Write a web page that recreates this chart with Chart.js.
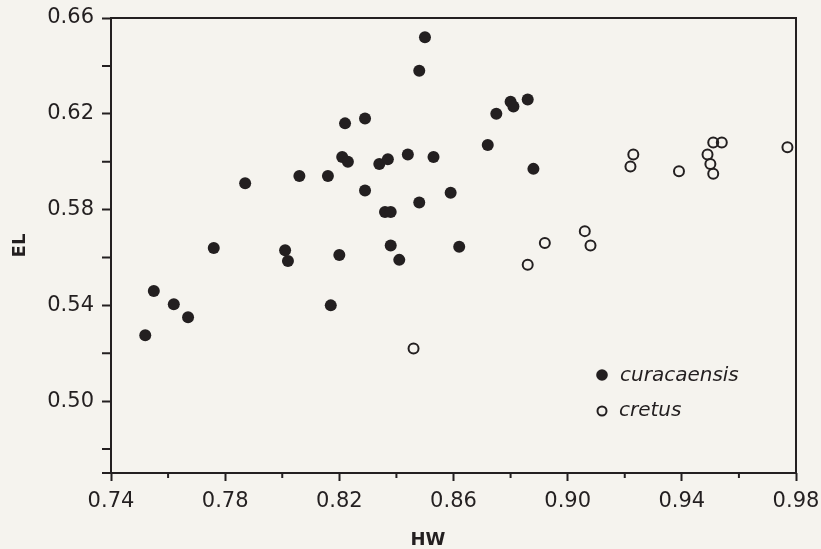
<!DOCTYPE html>
<html>
<head>
<meta charset="utf-8">
<script src="https://cdn.jsdelivr.net/npm/chart.js@4/dist/chart.umd.min.js"></script>
<style>
  html, body { margin: 0; padding: 0; background: #f5f3ee; }
  #wrap { width: 821px; height: 549px; }
</style>
</head>
<body>
<div id="wrap"><canvas id="c" width="821" height="549"></canvas></div>
<script>
// ---- data ----
const curacaensisHW = [0.850, 0.848, 0.822, 0.829, 0.875, 0.880, 0.881, 0.886, 0.872, 0.821,
                       0.823, 0.834, 0.837, 0.844, 0.853, 0.806, 0.816, 0.888, 0.829, 0.848,
                       0.859, 0.836, 0.838, 0.838, 0.841, 0.862, 0.820, 0.801, 0.802, 0.817,
                       0.787, 0.776, 0.755, 0.762, 0.767, 0.752];
const curacaensisEL = [0.652, 0.638, 0.616, 0.618, 0.620, 0.625, 0.623, 0.626, 0.607, 0.602,
                       0.600, 0.599, 0.601, 0.603, 0.602, 0.594, 0.594, 0.597, 0.588, 0.583,
                       0.587, 0.579, 0.579, 0.565, 0.559, 0.5645, 0.561, 0.563, 0.5585, 0.540,
                       0.591, 0.564, 0.546, 0.5405, 0.535, 0.5275];
const cretusHW = [0.846, 0.892, 0.886, 0.923, 0.922, 0.939, 0.951, 0.954, 0.949, 0.950,
                  0.951, 0.977, 0.906, 0.908];
const cretusEL = [0.522, 0.566, 0.557, 0.603, 0.598, 0.596, 0.608, 0.608, 0.603, 0.599,
                  0.595, 0.606, 0.571, 0.565];

const seriesNames = ['curacaensis', 'cretus'];
const xTitle = 'HW';
const yTitle = 'EL';

const xMajorTicks = [0.74, 0.78, 0.82, 0.86, 0.90, 0.94, 0.98];
const xTickLabels = ['0.74', '0.78', '0.82', '0.86', '0.90', '0.94', '0.98'];
const xMinorTicks = [0.76, 0.80, 0.84, 0.88, 0.92, 0.96];
const yMajorTicks = [0.50, 0.54, 0.58, 0.62, 0.66];
const yTickLabels = ['0.50', '0.54', '0.58', '0.62', '0.66'];
const yMinorTicks = [0.47, 0.48, 0.52, 0.56, 0.60, 0.64];
const xRange = [0.74, 0.98];
const yRange = [0.47, 0.66];

// ---- styling ----
const INK = '#231f20';
const BG = '#f5f3ee';

function zip(xs, ys) { return xs.map((x, i) => ({ x: x, y: ys[i] })); }

const decorPlugin = {
  id: 'decor',
  beforeDraw(chart) {
    const ctx = chart.ctx;
    ctx.save();
    ctx.fillStyle = BG;
    ctx.fillRect(0, 0, chart.width, chart.height);
    ctx.restore();
  },
  afterDraw(chart) {
    const ctx = chart.ctx;
    const a = chart.chartArea;
    const xs = chart.scales.x, ys = chart.scales.y;
    ctx.save();
    // frame
    ctx.strokeStyle = INK;
    ctx.lineWidth = 2;
    ctx.strokeRect(a.left, a.top, a.right - a.left, a.bottom - a.top);
    // minor ticks
    ctx.lineWidth = 2;
    ctx.beginPath();
    xMinorTicks.forEach(v => {
      const px = xs.getPixelForValue(v);
      ctx.moveTo(px, a.bottom);
      ctx.lineTo(px, a.bottom + 5);
    });
    yMinorTicks.forEach(v => {
      const py = ys.getPixelForValue(v);
      ctx.moveTo(a.left, py);
      ctx.lineTo(a.left - 9, py);
    });
    ctx.stroke();

    // legend inside the plot
    const lx = a.left + 491, ly1 = a.top + 357, ly2 = a.top + 393;
    ctx.fillStyle = INK;
    ctx.beginPath();
    ctx.arc(lx, ly1, 5.8, 0, Math.PI * 2);
    ctx.fill();
    ctx.beginPath();
    ctx.arc(lx, ly2, 4.5, 0, Math.PI * 2);
    ctx.lineWidth = 2;
    ctx.stroke();
    ctx.font = 'italic 20px "DejaVu Sans"';
    ctx.textAlign = 'left';
    ctx.textBaseline = 'alphabetic';
    ctx.fillText(seriesNames[0], lx + 18, ly1 + 6);
    ctx.fillText(seriesNames[1], lx + 17, ly2 + 5);

    // axis titles
    ctx.font = 'bold 18px "DejaVu Sans"';
    ctx.textAlign = 'center';
    ctx.textBaseline = 'middle';
    ctx.fillText(xTitle, a.left + 317, 540);
    ctx.translate(20, (a.top + a.bottom) / 2);
    ctx.rotate(-Math.PI / 2);
    ctx.fillText(yTitle, 0, 0);
    ctx.restore();
  }
};

const tickFont = { family: 'DejaVu Sans', size: 21 };

new Chart(document.getElementById('c'), {
  type: 'scatter',
  data: {
    datasets: [
      {
        label: seriesNames[0],
        data: zip(curacaensisHW, curacaensisEL),
        pointRadius: 6,
        pointBackgroundColor: INK,
        pointBorderColor: INK,
        pointBorderWidth: 0
      },
      {
        label: seriesNames[1],
        data: zip(cretusHW, cretusEL),
        pointRadius: 5,
        pointBackgroundColor: 'rgba(0,0,0,0)',
        pointBorderColor: INK,
        pointBorderWidth: 2
      }
    ]
  },
  options: {
    responsive: false,
    animation: false,
    layout: { padding: { top: 18, right: 25, left: 0, bottom: 0 } },
    plugins: { legend: { display: false }, tooltip: { enabled: false } },
    scales: {
      x: {
        type: 'linear',
        min: xRange[0], max: xRange[1],
        afterFit(s) { s.height = 76; s.paddingLeft = 0; s.paddingRight = 0; },
        afterBuildTicks(s) { s.ticks = xMajorTicks.map(v => ({ value: v })); },
        border: { display: false },
        grid: { drawOnChartArea: false, drawTicks: true, tickLength: 8, tickColor: INK, tickWidth: 2 },
        ticks: {
          font: tickFont, color: INK, padding: 8, maxRotation: 0, autoSkip: false,
          callback: (v, i) => xTickLabels[i]
        }
      },
      y: {
        type: 'linear',
        min: yRange[0], max: yRange[1],
        afterFit(s) { s.width = 111; s.paddingTop = 0; s.paddingBottom = 0; },
        afterBuildTicks(s) { s.ticks = yMajorTicks.map(v => ({ value: v })); },
        border: { display: false },
        grid: { drawOnChartArea: false, drawTicks: true, tickLength: 9, tickColor: INK, tickWidth: 2 },
        ticks: {
          font: tickFont, color: INK, padding: 8, autoSkip: false,
          callback: (v, i) => yTickLabels[i]
        }
      }
    }
  },
  plugins: [decorPlugin]
});
</script>
</body>
</html>
